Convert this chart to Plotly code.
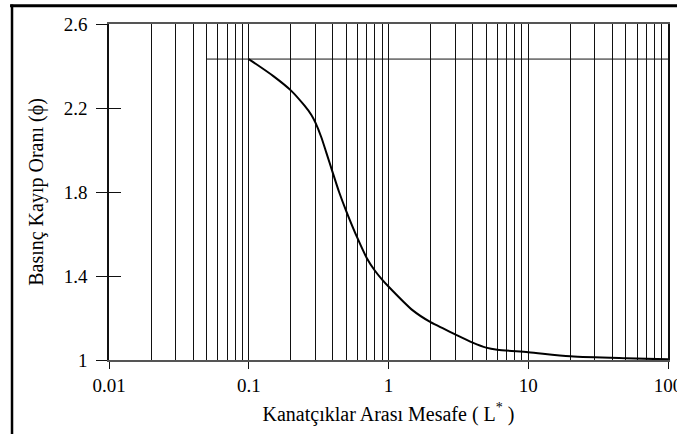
import plotly.graph_objects as go

# Data
x_curve = [0.1, 0.15, 0.2, 0.25, 0.28, 0.3, 0.33, 0.36, 0.4, 0.443, 0.5, 0.6, 0.7, 0.8, 0.9, 1.0,
           1.5, 2.0, 2.5, 3.0, 4.0, 5.0, 6.0, 10.0, 20.0, 50.0, 100.0]
y_curve = [2.433, 2.352, 2.284, 2.212, 2.168, 2.13, 2.062, 1.985, 1.89, 1.80, 1.707, 1.58, 1.485,
           1.425, 1.383, 1.35, 1.235, 1.18, 1.148, 1.122, 1.083, 1.059, 1.049, 1.037, 1.018,
           1.008, 1.003]

ref_x = [0.05, 100]
ref_y = [2.433, 2.433]

x_major = [0.01, 0.1, 1, 10, 100]
x_major_text = ["0.01", "0.1", "1", "10", "100"]
x_minor = [m * d for d in (0.01, 0.1, 1, 10) for m in range(2, 10)]
y_ticks = [1, 1.4, 1.8, 2.2, 2.6]
y_text = ["1", "1.4", "1.8", "2.2", "2.6"]

FONT = "Liberation Serif"
INK = "#111111"

fig = go.Figure()
fig.add_trace(go.Scatter(x=ref_x, y=ref_y, mode="lines",
                         line=dict(color=INK, width=1), showlegend=False, hoverinfo="skip"))
fig.add_trace(go.Scatter(x=x_curve, y=y_curve, mode="lines",
                         line=dict(color="black", width=2, shape="spline", smoothing=0.8),
                         showlegend=False))
# invisible trace to activate the overlaid y axis (inside ticks)
fig.add_trace(go.Scatter(x=[0.01], y=[1], yaxis="y2", mode="markers",
                         marker=dict(opacity=0), showlegend=False, hoverinfo="skip"))

fig.update_layout(
    width=677, height=434, autosize=False,
    margin=dict(l=109, r=9, t=24, b=74),
    paper_bgcolor="white", plot_bgcolor="white",
    font=dict(family=FONT, size=19, color="black"),
    xaxis=dict(
        type="log", range=[-2, 2], automargin=False,
        tickmode="array", tickvals=x_major, ticktext=x_major_text,
        ticklabeloverflow="allow",
        ticks="outside", ticklen=7, tickcolor=INK, tickwidth=1,
        showgrid=True, gridcolor=INK, gridwidth=1,
        minor=dict(tickmode="array", tickvals=x_minor, showgrid=True,
                   gridcolor=INK, gridwidth=1, ticks=""),
        showline=True, linecolor="#555555", linewidth=2, mirror=True,
        zeroline=False,
        tickfont=dict(family=FONT, size=19, color="black"),
        title=dict(text="Kanatçıklar Arası Mesafe ( L<sup>*</sup> )",
                   font=dict(family=FONT, size=20, color="black"), standoff=12),
    ),
    yaxis=dict(
        range=[1, 2.6], automargin=False,
        tickmode="array", tickvals=y_ticks, ticktext=y_text,
        ticks="outside", ticklen=11, tickcolor=INK, tickwidth=1,
        ticklabelstandoff=5,
        showgrid=False, zeroline=False,
        showline=True, linecolor=INK, linewidth=1.5, mirror=True,
        tickfont=dict(family=FONT, size=19, color="black"),
        title=dict(text="Basınç Kayıp Oranı (ϕ)",
                   font=dict(family=FONT, size=20, color="black"), standoff=15),
    ),
    yaxis2=dict(
        overlaying="y", range=[1, 2.6], automargin=False,
        tickmode="array", tickvals=y_ticks,
        ticks="inside", ticklen=12, tickcolor=INK, tickwidth=1,
        showticklabels=False, showgrid=False, zeroline=False, showline=False,
        side="left",
    ),
    shapes=[
        dict(type="line", xref="paper", yref="paper", x0=-0.177, x1=1.02, y0=1.054, y1=1.054,
             line=dict(color="black", width=3), layer="above"),
        dict(type="line", xref="paper", yref="paper", x0=-0.1735, x1=-0.1735, y0=1.058, y1=-0.23,
             line=dict(color="black", width=2.5), layer="above"),
    ],
)

fig.write_html(
    "out.html",
    config={"displayModeBar": False},
    post_script="document.body.style.margin='0';document.body.style.overflow='hidden';",
)
